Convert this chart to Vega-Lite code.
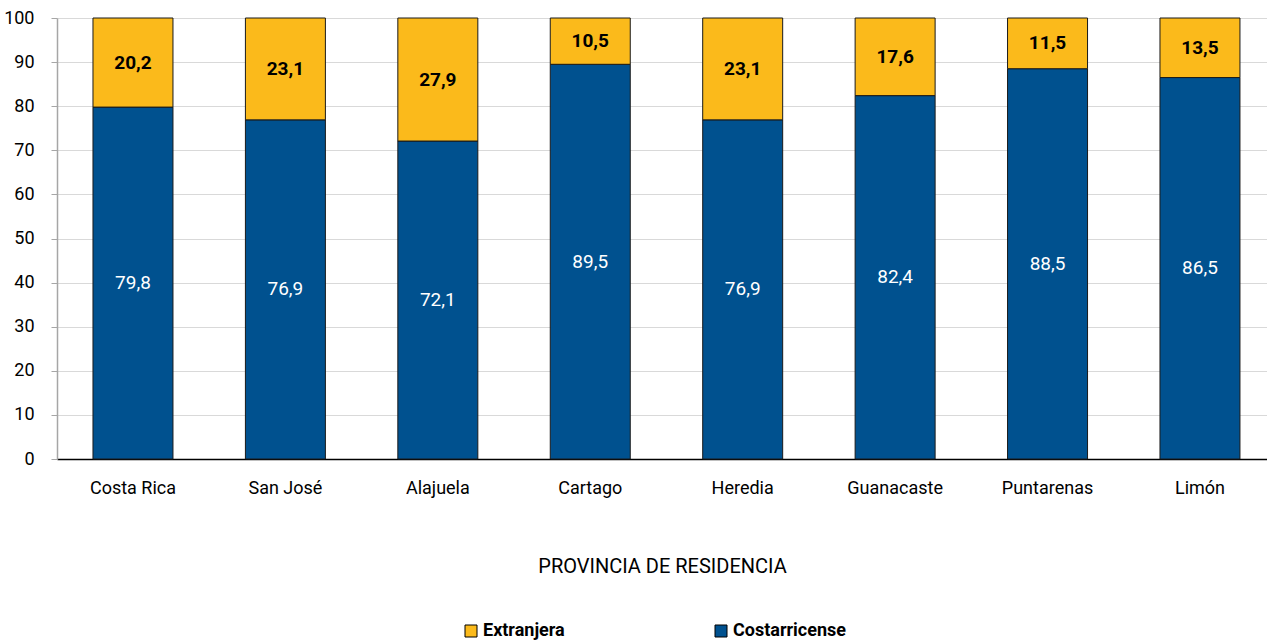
{
  "$schema": "https://vega.github.io/schema/vega-lite/v6.json",
  "width": 1210,
  "height": 441,
  "padding": {"left": 3, "top": 9, "right": 0, "bottom": 5},
  "config": {
    "font": "Roboto, sans-serif",
    "view": {"stroke": null},
    "locale": {"number": {"decimal": ",", "thousands": ".", "grouping": [3], "currency": ["", ""]}}
  },
  "data": {
    "values": [
      {"provincia": "Costa Rica", "grupo": "Costarricense", "orden": 1, "valor": 79.8},
      {"provincia": "Costa Rica", "grupo": "Extranjera", "orden": 2, "valor": 20.2},
      {"provincia": "San José", "grupo": "Costarricense", "orden": 1, "valor": 76.9},
      {"provincia": "San José", "grupo": "Extranjera", "orden": 2, "valor": 23.1},
      {"provincia": "Alajuela", "grupo": "Costarricense", "orden": 1, "valor": 72.1},
      {"provincia": "Alajuela", "grupo": "Extranjera", "orden": 2, "valor": 27.9},
      {"provincia": "Cartago", "grupo": "Costarricense", "orden": 1, "valor": 89.5},
      {"provincia": "Cartago", "grupo": "Extranjera", "orden": 2, "valor": 10.5},
      {"provincia": "Heredia", "grupo": "Costarricense", "orden": 1, "valor": 76.9},
      {"provincia": "Heredia", "grupo": "Extranjera", "orden": 2, "valor": 23.1},
      {"provincia": "Guanacaste", "grupo": "Costarricense", "orden": 1, "valor": 82.4},
      {"provincia": "Guanacaste", "grupo": "Extranjera", "orden": 2, "valor": 17.6},
      {"provincia": "Puntarenas", "grupo": "Costarricense", "orden": 1, "valor": 88.5},
      {"provincia": "Puntarenas", "grupo": "Extranjera", "orden": 2, "valor": 11.5},
      {"provincia": "Limón", "grupo": "Costarricense", "orden": 1, "valor": 86.5},
      {"provincia": "Limón", "grupo": "Extranjera", "orden": 2, "valor": 13.5}
    ]
  },
  "encoding": {
    "x": {
      "field": "provincia",
      "type": "nominal",
      "sort": null,
      "scale": {"paddingInner": 0.4752, "paddingOuter": 0.2067, "align": 0.571},
      "axis": {
        "title": "PROVINCIA DE RESIDENCIA",
        "titleFontSize": 20,
        "titleFontWeight": "normal",
        "titleColor": "#000000",
        "titlePadding": 59,
        "labelAngle": 0,
        "labelFontSize": 18,
        "labelColor": "#000000",
        "labelPadding": 20,
        "ticks": false,
        "domainColor": "#000000",
        "domainWidth": 1.5
      }
    },
    "y": {
      "field": "valor",
      "type": "quantitative",
      "stack": "zero",
      "scale": {"domain": [0, 100], "nice": false},
      "axis": {
        "title": null,
        "values": [0, 10, 20, 30, 40, 50, 60, 70, 80, 90, 100],
        "labelFontSize": 18,
        "labelColor": "#000000",
        "labelPadding": 17,
        "gridColor": "#d9d9d9",
        "domainColor": "#a6a6a6",
        "domainWidth": 1.5,
        "tickColor": "#a6a6a6",
        "tickSize": 6
      }
    },
    "order": {"field": "orden", "type": "quantitative"}
  },
  "layer": [
    {
      "mark": {"type": "bar", "stroke": "#1a1a1a", "strokeWidth": 1},
      "encoding": {
        "color": {
          "field": "grupo",
          "type": "nominal",
          "scale": {"domain": ["Extranjera", "Costarricense"], "range": ["#FBBA1B", "#00518F"]},
          "legend": {
            "title": null,
            "orient": "none",
            "legendX": 405,
            "legendY": 604,
            "direction": "horizontal",
            "symbolType": "square",
            "symbolSize": 144,
            "symbolStrokeColor": "#000000",
            "symbolStrokeWidth": 1,
            "symbolOpacity": 1,
            "labelFontSize": 18,
            "labelFontWeight": "bold",
            "labelColor": "#000000",
            "labelOffset": 3,
            "columnPadding": 147
          }
        }
      }
    },
    {
      "mark": {"type": "text", "fontSize": 19, "color": "#ffffff"},
      "encoding": {
        "y": {"field": "valor", "type": "quantitative", "stack": "zero", "bandPosition": 0.5},
        "text": {
          "condition": {"test": "datum.grupo === 'Costarricense'", "field": "valor", "type": "quantitative", "format": ".1f"},
          "value": ""
        }
      }
    },
    {
      "mark": {"type": "text", "fontSize": 19, "fontWeight": "bold", "color": "#000000"},
      "encoding": {
        "y": {"field": "valor", "type": "quantitative", "stack": "zero", "bandPosition": 0.5},
        "text": {
          "condition": {"test": "datum.grupo === 'Extranjera'", "field": "valor", "type": "quantitative", "format": ".1f"},
          "value": ""
        }
      }
    }
  ]
}
